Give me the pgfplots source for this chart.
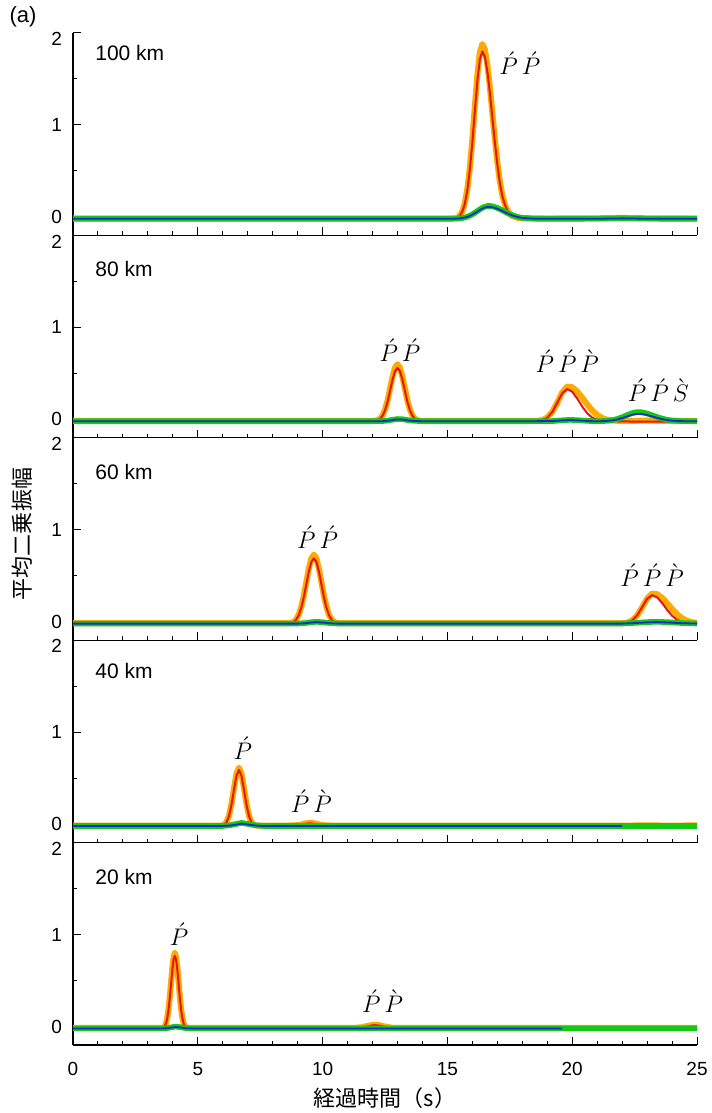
\documentclass[border=0pt]{standalone}
\usepackage{fontspec}
\setmainfont{Liberation Sans}
\newfontfamily\jp{Noto Sans CJK JP}
\usepackage{pgfplots}
\usepackage{pgfplotstable}
\pgfplotsset{compat=1.18}
\usepgfplotslibrary{groupplots}

\definecolor{cOr}{RGB}{255,170,0}
\definecolor{cRd}{RGB}{230,20,20}
\definecolor{cGn}{RGB}{20,200,20}
\definecolor{cBl}{RGB}{30,40,210}

% ---- 100 km ----
\pgfplotstableread{
t o r
0 -0.015 -0.020
5 -0.015 -0.020
10 -0.015 -0.020
14 -0.015 -0.020
15 -0.016 -0.019
15.3 -0.015 -0.015
15.4 -0.006 -0.006
15.5 0.016 0.015
15.6 0.064 0.060
15.7 0.154 0.146
15.8 0.307 0.293
15.9 0.541 0.517
16.0 0.850 0.814
16.1 1.204 1.152
16.2 1.544 1.478
16.3 1.789 1.713
16.4 1.880 1.800
16.5 1.821 1.744
16.6 1.656 1.585
16.7 1.415 1.354
16.8 1.133 1.085
16.9 0.850 0.814
17.0 0.598 0.572
17.1 0.390 0.373
17.2 0.237 0.226
17.3 0.140 0.135
17.4 0.074 0.070
17.5 0.033 0.032
17.6 0.011 0.010
17.8 -0.008 -0.009
18.0 -0.012 -0.013
18.5 -0.015 -0.016
19 -0.016 -0.018
20 -0.015 -0.020
21 -0.014 -0.018
22 -0.010 -0.014
23 -0.014 -0.018
24 -0.015 -0.020
25 -0.015 -0.020
}\tAo
\pgfplotstableread{
t g b
0 -0.020 -0.020
5 -0.020 -0.020
10 -0.020 -0.020
15 -0.020 -0.020
15.3 -0.018 -0.019
15.4 -0.017 -0.017
15.5 -0.015 -0.015
15.6 -0.011 -0.011
15.7 -0.005 -0.006
15.8 0.004 0.002
15.9 0.015 0.012
16.0 0.029 0.026
16.1 0.046 0.042
16.2 0.065 0.059
16.3 0.083 0.076
16.4 0.100 0.091
16.5 0.112 0.103
16.6 0.119 0.109
16.7 0.120 0.110
16.8 0.116 0.106
16.9 0.108 0.099
17.0 0.098 0.090
17.1 0.086 0.078
17.2 0.072 0.065
17.3 0.058 0.052
17.4 0.044 0.040
17.5 0.031 0.028
17.6 0.020 0.017
17.8 0.002 0.001
18.0 -0.009 -0.010
18.5 -0.019 -0.019
19 -0.020 -0.020
21 -0.018 -0.019
22 -0.013 -0.015
23 -0.018 -0.019
25 -0.020 -0.020
}\tAg

% ---- 80 km ----
\pgfplotstableread{
t o r
0 -0.015 -0.020
5 -0.015 -0.020
10 -0.015 -0.020
12.0 -0.016 -0.019
12.1 -0.014 -0.017
12.2 -0.009 -0.010
12.3 0.007 0.006
12.4 0.043 0.039
12.5 0.106 0.098
12.6 0.203 0.189
12.7 0.329 0.307
12.8 0.461 0.430
12.9 0.562 0.524
13.0 0.600 0.560
13.1 0.562 0.524
13.2 0.461 0.430
13.3 0.329 0.307
13.4 0.203 0.189
13.5 0.106 0.098
13.6 0.043 0.039
13.7 0.007 0.006
13.8 -0.009 -0.010
13.9 -0.014 -0.017
14.0 -0.016 -0.019
15 -0.015 -0.020
18 -0.015 -0.020
18.6 -0.015 -0.018
18.8 -0.008 -0.009
19.0 0.020 0.018
19.2 0.081 0.080
19.4 0.182 0.181
19.6 0.293 0.285
19.8 0.357 0.330
20.0 0.349 0.301
20.2 0.304 0.227
20.4 0.236 0.140
20.6 0.163 0.067
20.8 0.097 0.020
21.0 0.048 -0.005
21.2 0.015 -0.015
21.4 -0.003 -0.019
21.6 -0.011 -0.020
21.8 -0.015 -0.020
22.0 -0.016 -0.022
23.0 -0.014 -0.025
24.0 -0.016 -0.022
25 -0.015 -0.020
}\tBo
\pgfplotstableread{
t g b
0 -0.020 -0.020
10 -0.020 -0.020
12 -0.020 -0.020
12.4 -0.018 -0.019
12.6 -0.013 -0.015
12.8 -0.004 -0.007
13.0 0.004 0.000
13.2 0.002 -0.002
13.4 -0.007 -0.010
13.6 -0.014 -0.016
14 -0.020 -0.020
18 -0.020 -0.020
19.2 -0.018 -0.018
19.6 -0.010 -0.011
19.9 -0.005 -0.007
20.2 -0.008 -0.010
20.6 -0.016 -0.017
21.0 -0.020 -0.021
21.4 -0.016 -0.016
21.6 -0.009 -0.011
21.8 0.004 -0.001
22.0 0.023 0.014
22.2 0.047 0.033
22.4 0.068 0.051
22.6 0.080 0.060
22.8 0.077 0.058
23.0 0.064 0.048
23.2 0.046 0.033
23.4 0.026 0.017
23.6 0.009 0.003
23.8 -0.004 -0.007
24.0 -0.012 -0.014
24.4 -0.019 -0.019
25 -0.020 -0.020
}\tBg

% ---- 60 km ----
\pgfplotstableread{
t o r
0 -0.015 -0.020
5 -0.015 -0.020
8 -0.015 -0.020
8.65 -0.015 -0.017
8.75 -0.011 -0.012
8.85 0.001 0.000
8.95 0.029 0.027
9.05 0.081 0.076
9.15 0.167 0.157
9.25 0.288 0.272
9.35 0.435 0.411
9.45 0.581 0.549
9.55 0.690 0.652
9.65 0.730 0.690
9.75 0.690 0.652
9.85 0.581 0.549
9.95 0.435 0.411
10.05 0.288 0.272
10.15 0.167 0.157
10.25 0.081 0.076
10.35 0.029 0.027
10.45 0.001 0.000
10.55 -0.011 -0.012
10.65 -0.015 -0.017
11 -0.015 -0.020
15 -0.015 -0.020
20 -0.015 -0.020
21.8 -0.015 -0.020
22.0 -0.014 -0.018
22.2 -0.009 -0.010
22.4 0.015 0.014
22.6 0.068 0.069
22.8 0.155 0.158
23.0 0.252 0.250
23.2 0.307 0.290
23.4 0.300 0.266
23.6 0.261 0.205
23.8 0.203 0.131
24.0 0.139 0.066
24.2 0.082 0.022
24.4 0.039 -0.003
24.6 0.011 -0.014
24.8 -0.005 -0.018
25.0 -0.012 -0.019
}\tCo
\pgfplotstableread{
t g b
0 -0.020 -0.020
5 -0.020 -0.020
9.0 -0.019 -0.020
9.3 -0.014 -0.016
9.5 -0.006 -0.009
9.75 0.000 -0.004
10.0 -0.005 -0.008
10.3 -0.014 -0.016
10.6 -0.019 -0.020
15 -0.020 -0.020
22.0 -0.019 -0.020
22.5 -0.012 -0.014
23.0 -0.003 -0.006
23.4 0.000 -0.003
23.8 -0.004 -0.007
24.3 -0.012 -0.014
25 -0.019 -0.020
}\tCg

% ---- 40 km ----
\pgfplotstableread{
t o r
0 -0.015 -0.020
5 -0.015 -0.020
5.8 -0.015 -0.020
5.95 -0.015 -0.017
6.05 -0.007 -0.008
6.15 0.023 0.021
6.25 0.092 0.088
6.35 0.220 0.211
6.45 0.392 0.376
6.55 0.550 0.527
6.65 0.615 0.590
6.75 0.550 0.527
6.85 0.392 0.376
6.95 0.220 0.211
7.05 0.092 0.088
7.15 0.023 0.021
7.25 -0.007 -0.008
7.35 -0.015 -0.017
7.6 -0.015 -0.020
8.5 -0.015 -0.020
8.9 -0.013 -0.016
9.1 -0.006 -0.008
9.3 0.008 0.004
9.5 0.015 0.010
9.7 0.008 0.004
9.9 -0.006 -0.008
10.1 -0.013 -0.016
10.4 -0.015 -0.020
15 -0.015 -0.020
20 -0.015 -0.020
22 -0.015 -0.020
23 -0.013 nan
24 -0.015 nan
25 -0.013 nan
}\tDo
\pgfplotstableread{
t g b
0 -0.020 -0.020
5 -0.020 -0.020
6.0 -0.019 -0.020
6.3 -0.011 -0.014
6.5 0.000 -0.006
6.75 0.014 0.006
7.0 0.003 -0.003
7.3 -0.011 -0.014
7.6 -0.019 -0.020
10 -0.020 -0.020
15 -0.020 -0.020
22 -0.020 -0.020
25 -0.020 nan
}\tDg

% ---- 20 km ----
\pgfplotstableread{
t o r
0 -0.015 -0.020
3.0 -0.015 -0.020
3.58 -0.015 -0.016
3.63 -0.009 -0.010
3.68 0.007 0.006
3.73 0.040 0.038
3.78 0.100 0.095
3.83 0.196 0.188
3.88 0.329 0.316
3.93 0.487 0.468
3.98 0.643 0.618
4.03 0.757 0.729
4.08 0.800 0.770
4.13 0.757 0.729
4.18 0.643 0.618
4.23 0.487 0.468
4.28 0.329 0.316
4.33 0.196 0.188
4.38 0.100 0.095
4.43 0.040 0.038
4.48 0.007 0.006
4.53 -0.009 -0.010
4.58 -0.015 -0.016
5.0 -0.015 -0.020
11.0 -0.015 -0.020
11.3 -0.014 -0.017
11.6 -0.006 -0.008
11.8 0.008 0.004
12.0 0.018 0.014
12.1 0.020 0.016
12.3 0.014 0.010
12.5 0.001 -0.002
12.8 -0.013 -0.016
13.1 -0.015 -0.019
15 -0.015 -0.020
19.6 -0.015 -0.020
20 -0.015 nan
25 -0.015 nan
}\tEo
\pgfplotstableread{
t g b
0 -0.020 -0.020
3.5 -0.020 -0.020
3.7 -0.019 -0.019
3.9 -0.010 -0.012
4.1 0.000 -0.004
4.3 -0.006 -0.009
4.5 -0.016 -0.017
4.8 -0.020 -0.020
10 -0.020 -0.020
15 -0.020 -0.020
19.6 -0.020 -0.020
20 -0.020 nan
25 -0.020 nan
}\tEg

\pgfplotsset{
  panel/.style={
    width=312pt, height=101.2pt, scale only axis,
    xmin=0, xmax=25, ymin=-0.2, ymax=2,
    axis lines=left,
    axis line style={-, line width=0.6pt},
    xtick={0,5,...,25}, minor x tick num=4,
    ytick={0,1}, minor ytick={0.5,1.5},
    extra y ticks={2},
    extra y tick style={grid=none, yticklabel style={yshift=-3pt}},
    tick align=inside,
    major tick length=4pt, minor tick length=2pt,
    tick style={black, line width=0.5pt},
    tick label style={font=\fontsize{9.5}{10}\selectfont},
    /pgf/number format/assume math mode=true,
    xticklabel style={yshift=-5pt},
    yticklabel style={xshift=-2pt},
  },
  sO/.style={cOr, line width=3pt, mark=none, line join=round},
  sR/.style={cRd, line width=1pt, mark=none, line join=round},
  sG/.style={cGn, line width=2.8pt, mark=none, line join=round},
  sB/.style={cBl, line width=0.9pt, mark=none, line join=round},
}
\newcommand{\km}[2]{\node[anchor=west, inner sep=0pt, font=\fontsize{10.5}{10.5}\selectfont] at (axis cs:0.88,#1) {#2};}
\newcommand{\ph}[3]{\node[inner sep=0pt, font=\fontsize{12}{12}\selectfont] at (axis cs:#1,#2) {$#3$};}

\begin{document}
\begin{tikzpicture}
\begin{groupplot}[
    group style={group size=1 by 5, vertical sep=0pt, xticklabels at=edge bottom},
    panel,
  ]
  \nextgroupplot
  \addplot[sO] table[x=t, y=o] {\tAo};
  \addplot[sR] table[x=t, y=r] {\tAo};
  \addplot[sG] table[x=t, y=g] {\tAg};
  \addplot[sB] table[x=t, y=b] {\tAg};
  \km{1.78}{100 km}
  \ph{17.9}{1.67}{\acute{P}\,\acute{P}}
  \coordinate (tl) at (rel axis cs:0,1);

  \nextgroupplot
  \addplot[sO] table[x=t, y=o] {\tBo};
  \addplot[sR] table[x=t, y=r] {\tBo};
  \addplot[sG] table[x=t, y=g] {\tBg};
  \addplot[sB] table[x=t, y=b] {\tBg};
  \km{1.63}{80 km}
  \ph{13.1}{0.75}{\acute{P}\,\acute{P}}
  \ph{19.8}{0.63}{\acute{P}\,\acute{P}\,\grave{P}}
  \ph{23.45}{0.32}{\acute{P}\,\acute{P}\,\grave{S}}

  \nextgroupplot
  \addplot[sO] table[x=t, y=o] {\tCo};
  \addplot[sR] table[x=t, y=r] {\tCo};
  \addplot[sG] table[x=t, y=g] {\tCg};
  \addplot[sB] table[x=t, y=b] {\tCg};
  \km{1.63}{60 km}
  \ph{9.8}{0.92}{\acute{P}\,\acute{P}}
  \ph{23.2}{0.51}{\acute{P}\,\acute{P}\,\grave{P}}
  \coordinate (ml) at (rel axis cs:0,0.5);

  \nextgroupplot
  \addplot[sO] table[x=t, y=o] {\tDo};
  \addplot[sR] table[x=t, y=r] {\tDo};
  \addplot[sG] table[x=t, y=g] {\tDg};
  \addplot[sB] table[x=t, y=b] {\tDg};
  \km{1.66}{40 km}
  \ph{6.8}{0.83}{\acute{P}}
  \ph{9.55}{0.25}{\acute{P}\,\grave{P}}

  \nextgroupplot
  \addplot[sO] table[x=t, y=o] {\tEo};
  \addplot[sR] table[x=t, y=r] {\tEo};
  \addplot[sG] table[x=t, y=g] {\tEg};
  \addplot[sB] table[x=t, y=b] {\tEg};
  \km{1.63}{20 km}
  \ph{4.25}{1.0}{\acute{P}}
  \ph{12.4}{0.28}{\acute{P}\,\grave{P}}
  \coordinate (br) at (rel axis cs:1,0);
  \coordinate (bm) at (rel axis cs:0.5,0);
\end{groupplot}
\node[font=\fontsize{11}{11}\selectfont] at ([xshift=-25pt,yshift=8pt]tl) {(a)};
\node[rotate=90, font=\jp\fontsize{11}{11}\selectfont] at ([xshift=-25.5pt,yshift=2.5pt]ml) {平均二乗振幅};
\node[font=\jp\fontsize{11}{11}\selectfont] at ([yshift=-26.5pt]bm) {経過時間（s）};
\pgfresetboundingbox
\path[use as bounding box] ([xshift=-36.5pt,yshift=16.5pt]tl) rectangle ([xshift=7pt,yshift=-34pt]br);
\end{tikzpicture}
\end{document}
